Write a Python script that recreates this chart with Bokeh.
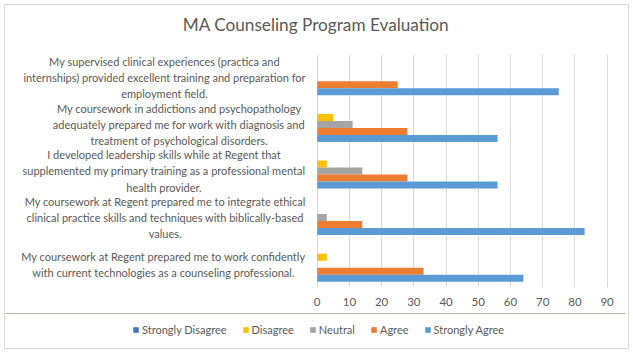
from bokeh.plotting import figure
from bokeh.layouts import column
from bokeh.models import (ColumnDataSource, FactorRange, Range1d, FixedTicker,
                          Legend, LegendItem)
from bokeh.transform import dodge
from bokeh.core.properties import value
from bokeh.embed import file_html
from bokeh.resources import INLINE

# ---- data (top-to-bottom as in the reference) ----
title_text = "MA Counseling Program Evaluation"
categories = [
    "My supervised clinical experiences (practica and\ninternships) provided excellent training and preparation for\nemployment field.",
    "My coursework in addictions and psychopathology\nadequately prepared me for work with diagnosis and\ntreatment of psychological disorders.",
    "I developed leadership skills while at Regent that\nsupplemented my primary training as a professional mental\nhealth provider.",
    "My coursework at Regent prepared me to integrate ethical\nclinical practice skills and techniques with biblically-based\nvalues.",
    "My coursework at Regent prepared me to work confidently\nwith current technologies as a counseling professional.",
]
series_names = ["Strongly Disagree", "Disagree", "Neutral", "Agree", "Strongly Agree"]
strongly_disagree = [0, 0, 0, 0, 0]
disagree = [0, 5, 3, 0, 3]
neutral = [0, 11, 14, 3, 0]
agree = [25, 28, 28, 14, 33]
strongly_agree = [75, 56, 56, 83, 64]
x_ticks = [0, 10, 20, 30, 40, 50, 60, 70, 80, 90]

colors = ["#4472C4", "#FFC000", "#A5A5A5", "#ED7D31", "#5B9BD5"]
offsets = [0.3, 0.15, 0.0, -0.15, -0.3]

TXT = "#595959"
FONT = "Lato"


def clear_bg(fig):
    fig.border_fill_alpha = 0
    fig.background_fill_alpha = 0
    fig.outline_line_color = None


# ---- title strip ----
tf = figure(width=633, height=54, output_backend="svg", toolbar_location=None,
            x_range=Range1d(0, 633), y_range=Range1d(0, 54),
            x_axis_type=None, y_axis_type=None, min_border=0)
clear_bg(tf)
tf.grid.visible = False
tf.text(x=[317], y=[30], text=[title_text], text_align="center", text_baseline="middle",
        text_font=value(FONT), text_font_size="17.2px", text_color=TXT)

# ---- main bar chart ----
src = ColumnDataSource(dict(
    cat=categories,
    sd=strongly_disagree, d=disagree, n=neutral, a=agree, sa=strongly_agree,
    lx=[-3.6] * len(categories),
))
keys = ["sd", "d", "n", "a", "sa"]

p = figure(frame_width=620, frame_height=233, output_backend="svg", toolbar_location=None,
           y_range=FactorRange(factors=list(reversed(categories)), range_padding=0),
           x_range=Range1d(-96.74, 95.7),
           min_border_left=5, min_border_right=8, min_border_top=0, min_border_bottom=26)
clear_bg(p)

for key, col, off in zip(keys, colors, offsets):
    p.hbar(y=dodge("cat", off, range=p.y_range), right=key, left=0, height=0.15,
           source=src, fill_color=col, line_color=None)

p.text(x="lx", y="cat", text="cat", source=src, anchor=value("center_right"),
       text_align="center", text_baseline="middle", text_font=value(FONT),
       text_font_size="11px", text_color=TXT, text_line_height=1.24)

p.yaxis.visible = False
p.ygrid.visible = False
p.xgrid.ticker = FixedTicker(ticks=x_ticks)
p.xgrid.grid_line_color = "#D9D9D9"
p.xaxis.ticker = FixedTicker(ticks=x_ticks)
p.xaxis.axis_line_color = None
p.xaxis.major_tick_line_color = None
p.xaxis.minor_tick_line_color = None
p.xaxis.major_tick_out = 0
p.xaxis.major_label_standoff = 10
p.xaxis.major_label_text_font = FONT
p.xaxis.major_label_text_font_size = "11.5px"
p.xaxis.major_label_text_color = TXT

# ---- legend strip (swatch renderers sit outside the visible range) ----
lf = figure(width=633, height=40, output_backend="svg", toolbar_location=None,
            x_range=Range1d(0, 1), y_range=Range1d(0, 1),
            x_axis_type=None, y_axis_type=None, min_border=0)
clear_bg(lf)
lf.grid.visible = False
swatch = ColumnDataSource(dict(y=[10], right=[1]))
items = []
for name, col in zip(series_names, colors):
    r = lf.hbar(y="y", right="right", left=0, height=0.5, source=swatch,
                fill_color=col, line_color=None)
    items.append(LegendItem(label=name, renderers=[r]))
legend = Legend(items=items, orientation="horizontal", location=(127, 17),
                glyph_width=7, glyph_height=7, label_standoff=3, spacing=15,
                label_text_font=FONT, label_text_font_size="11px", label_text_color=TXT,
                border_line_color=None, background_fill_alpha=0, padding=4, margin=0)
lf.add_layout(legend, "center")

layout = column(tf, p, lf, spacing=0,
                styles={"outline": "1px solid #D9D9D9", "outline-offset": "-5px",
                        "background-color": "white"})

open("out.html", "w").write(file_html(layout, INLINE))
